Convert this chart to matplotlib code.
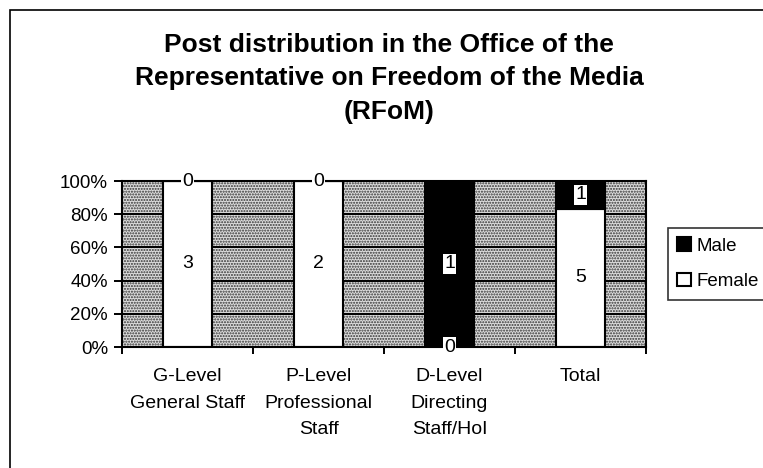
import numpy as np
import matplotlib
matplotlib.use("Agg")
from matplotlib import pyplot as plt
from matplotlib.patches import Rectangle

plt.rcParams['font.family'] = ['Liberation Sans', 'DejaVu Sans']
plt.rcParams['hatch.color'] = "#333333"
plt.rcParams['hatch.linewidth'] = 1.0

categories = ["G-Level\nGeneral Staff", "P-Level\nProfessional\nStaff",
              "D-Level\nDirecting\nStaff/HoI", "Total"]
female = np.array([3, 2, 0, 5])
male = np.array([0, 0, 1, 1])
yticks = [0, 20, 40, 60, 80, 100]
yticklabels = ["0%", "20%", "40%", "60%", "80%", "100%"]
title_lines = ["Post distribution in the Office of the",
               "Representative on Freedom of the Media",
               "(RFoM)"]

total = female + male
fem_pct = female / total * 100
male_pct = male / total * 100

W, H = 763, 468
fig = plt.figure(figsize=(W / 100, H / 100), dpi=100)
fig.patch.set_facecolor("white")

# outer chart frame (runs off the right and bottom edges)
fig.patches.append(Rectangle((10 / W, -0.05), 1.0, 1 - 10 / H + 0.05,
                             transform=fig.transFigure, fill=False,
                             edgecolor="black", linewidth=1.2))

ax = fig.add_axes([122 / W, 1 - 347 / H, 524 / W, 166 / H])

# stippled plot-area background
ax.patch.set_facecolor("#dcdcdc")
ax.patch.set_edgecolor("#333333")
ax.patch.set_hatch("......")

x = np.arange(len(categories))
ax.bar(x, fem_pct, width=0.38, color="white", edgecolor="black", linewidth=1.5, zorder=3, label="Female")
ax.bar(x, male_pct, width=0.38, bottom=fem_pct, color="black", edgecolor="black", linewidth=1.5, zorder=3, label="Male")

for g in yticks[1:-1]:
    ax.axhline(g, color="black", linewidth=1.4, zorder=2)

box = dict(facecolor="white", edgecolor="none", pad=1.0)
for i in range(len(categories)):
    ax.text(x[i], fem_pct[i] / 2, str(female[i]), ha="center", va="center",
            fontsize=14, bbox=box, zorder=5, clip_on=False)
    ax.text(x[i], fem_pct[i] + male_pct[i] / 2, str(male[i]), ha="center", va="center",
            fontsize=14, bbox=box, zorder=5, clip_on=False)

ax.set_xlim(-0.5, len(categories) - 0.5)
ax.set_ylim(0, 100)
ax.set_yticks(yticks)
ax.set_yticklabels(yticklabels, fontsize=13.5)
ax.set_xticks(x)
ax.set_xticklabels(categories, fontsize=14, va="top", linespacing=1.75)
ax.set_xticks(np.arange(len(categories) + 1) - 0.5, minor=True)
ax.tick_params(axis="x", which="major", length=0, pad=15)
ax.tick_params(axis="x", which="minor", length=5, direction="out", width=1.4)
ax.tick_params(axis="y", length=6, direction="out", width=1.4, pad=4)
for s in ax.spines.values():
    s.set_linewidth(1.5)
    s.set_zorder(4)

for line, yc in zip(title_lines, [45, 78, 112]):
    fig.text(389 / W, 1 - yc / H, line, ha="center", va="center",
             fontsize=19, fontweight="bold")

handles, labels = ax.get_legend_handles_labels()
leg = fig.legend(handles[::-1], labels[::-1], loc="upper left",
                 bbox_to_anchor=(668 / W, 1 - 228 / H), fontsize=13.5,
                 frameon=True, fancybox=False, edgecolor="black", handlelength=0.7,
                 handleheight=0.7, handletextpad=0.3, borderpad=0.5, labelspacing=1.0,
                 borderaxespad=0)
leg.get_frame().set_linewidth(1.2)

fig.savefig("out.png", dpi=100, facecolor="white")
